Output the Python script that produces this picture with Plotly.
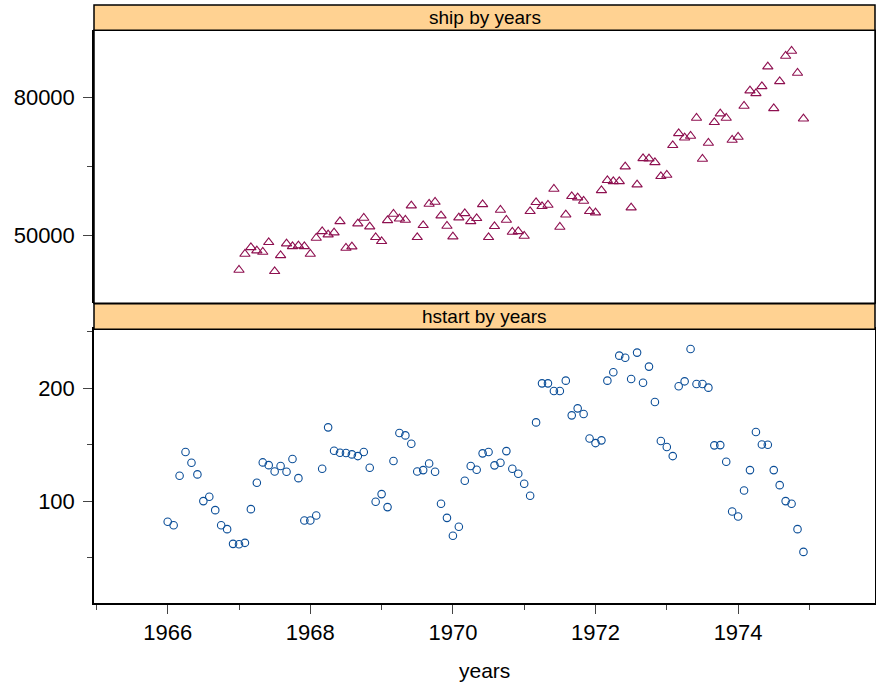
import plotly.graph_objects as go

# ---- data ----
ship_start = 1967.0
ship = [42550, 46020, 47470, 46750, 46460, 48560, 42260, 45730, 48270, 47690, 47840, 47690,
        46020, 49500, 50950, 50230, 50660, 53120, 47330, 47620, 52620, 53850, 51970, 49650,
        48780, 53340, 54720, 53700, 53420, 56530, 49650, 52260, 56890, 57330, 54360, 52110,
        49790, 53920, 54860, 53120, 53780, 56820, 49650, 52040, 55590, 53420, 50810, 50950,
        49940, 55300, 57260, 56390, 56680, 60150, 51890, 54570, 58560, 58270, 57550, 55300,
        55010, 59860, 62040, 61820, 61820, 65010, 56100, 61100, 66820, 66750, 65950, 62910,
        63200, 69650, 72250, 71310, 71670, 75590, 66680, 70150, 74650, 76530, 75590, 70810,
        71460, 78200, 81530, 80950, 82470, 86750, 77690, 83560, 89070, 90150, 85370, 75440]

hstart_start = 1966.0
hstart = [82.0, 79.0, 122.7, 143.7, 134.2, 123.9, 100.3, 104.1, 92.3, 79.0, 75.5, 62.5,
          62.2, 63.4, 93.2, 116.5, 134.5, 132.1, 126.5, 131.3, 126.2, 137.5, 120.6, 83.2,
          83.2, 87.6, 128.9, 165.5, 144.8, 143.1, 142.8, 141.6, 140.1, 143.7, 129.8, 99.7,
          106.5, 95.0, 135.7, 160.5, 158.4, 151.0, 126.5, 127.7, 133.6, 126.2, 98.0, 85.5,
          69.6, 77.6, 118.3, 131.3, 128.0, 142.5, 143.7, 131.9, 134.2, 144.5, 128.9, 124.5,
          115.6, 105.0, 169.9, 204.4, 204.4, 197.6, 197.6, 206.8, 176.1, 182.3, 177.3, 155.7,
          151.6, 154.0, 206.8, 214.2, 228.9, 227.1, 208.3, 231.6, 205.0, 219.2, 187.9, 153.4,
          148.1, 140.1, 201.8, 206.2, 234.8, 203.8, 203.8, 200.6, 149.6, 149.8, 135.1, 91.1,
          86.7, 109.7, 127.7, 161.4, 150.4, 150.1, 127.7, 114.4, 100.3, 98.0, 75.5, 55.4]

x_major = [1966, 1968, 1970, 1972, 1974]
x_minor = [1965, 1967, 1969, 1971, 1973, 1975]
ship_major = [50000, 80000]
ship_minor = [65000]
hstart_major = [100, 200]
hstart_minor = [50, 150, 250]
strip_labels = ["ship by years", "hstart by years"]
x_title = "years"

ship_x = [ship_start + i / 12 for i in range(len(ship))]
hstart_x = [hstart_start + i / 12 for i in range(len(hstart))]

# ---- layout geometry (pixels) ----
W, H = 876, 683
ml, mr, mt, mb = 94, 1, 5, 80
ph = H - mt - mb


def frac(py):
    return (H - mb - py) / ph


up_dom = [frac(303.3), frac(30.3)]
lo_dom = [0, frac(329.3)]
strips = [(frac(30.3), 1.0), (frac(303.8), frac(329.3))]

FONT = "Liberation Sans, Arial, sans-serif"
STRIP = "#FFD292"

fig = go.Figure()
fig.add_trace(go.Scatter(x=ship_x, y=ship, mode="markers", xaxis="x", yaxis="y2",
                         marker=dict(symbol="triangle-up-open", size=9, color="#8E1050",
                                     line=dict(width=1.1, color="#8E1050")),
                         showlegend=False))
fig.add_trace(go.Scatter(x=hstart_x, y=hstart, mode="markers", xaxis="x", yaxis="y",
                         marker=dict(symbol="circle-open", size=7.5, color="#0B4E98",
                                     line=dict(width=1.1, color="#0B4E98")),
                         showlegend=False))

xr = [1966 - (167.7 - 94) / 71.3, 1966 + (875 - 167.7) / 71.3]

common_axis = dict(showgrid=False, zeroline=False, showline=True, mirror=True,
                   linecolor="black", linewidth=1.5, ticks="outside", tickcolor="#444",
                   tickwidth=1, ticklen=9, automargin=False,
                   tickfont=dict(family=FONT, size=22, color="black"))

fig.update_layout(
    width=W, height=H,
    margin=dict(l=ml, r=mr, t=mt, b=mb, autoexpand=False),
    paper_bgcolor="white", plot_bgcolor="white",
    font=dict(family=FONT, color="black"),
    xaxis=dict(**common_axis, range=xr, tickmode="array", tickvals=x_major,
               ticktext=[str(v) for v in x_major], anchor="y",
               minor=dict(tickmode="array", tickvals=x_minor, ticklen=5, ticks="outside",
                          tickcolor="#444")),
    yaxis=dict(**common_axis, domain=lo_dom, range=[10.2, 252.2], tickmode="array",
               tickvals=hstart_major, ticktext=[str(v) for v in hstart_major],
               ticklabelstandoff=4,
               minor=dict(tickmode="array", tickvals=hstart_minor, ticklen=5,
                          ticks="outside", tickcolor="#444")),
    yaxis2=dict(**common_axis, domain=up_dom, range=[35304, 94653], anchor="x",
                tickmode="array", tickvals=ship_major,
                ticktext=[str(v) for v in ship_major], ticklabelstandoff=4,
                minor=dict(tickmode="array", tickvals=ship_minor, ticklen=5,
                           ticks="outside", tickcolor="#444")),
)

# upper panel frame (x axis there has no ticks)
fig.add_shape(type="rect", xref="paper", yref="paper", x0=0, x1=1, y0=up_dom[0], y1=up_dom[1],
              line=dict(color="black", width=1.5), fillcolor="rgba(0,0,0,0)", layer="above")

for (y0, y1), lab in zip(strips, strip_labels):
    fig.add_shape(type="rect", xref="paper", yref="paper", x0=0, x1=1, y0=y0, y1=y1,
                  line=dict(color="black", width=1.5), fillcolor=STRIP, layer="above")
    fig.add_annotation(xref="paper", yref="paper", x=0.5, y=(y0 + y1) / 2, text=lab,
                       showarrow=False, font=dict(family=FONT, size=19, color="black"),
                       xanchor="center", yanchor="middle")

fig.add_annotation(xref="paper", yref="paper", x=0.5, y=frac(670), text=x_title,
                   showarrow=False, font=dict(family=FONT, size=21, color="black"),
                   xanchor="center", yanchor="middle")

fig.write_html("out.html", config={"displayModeBar": False},
               post_script="document.body.style.margin='0';document.body.style.padding='0';")
